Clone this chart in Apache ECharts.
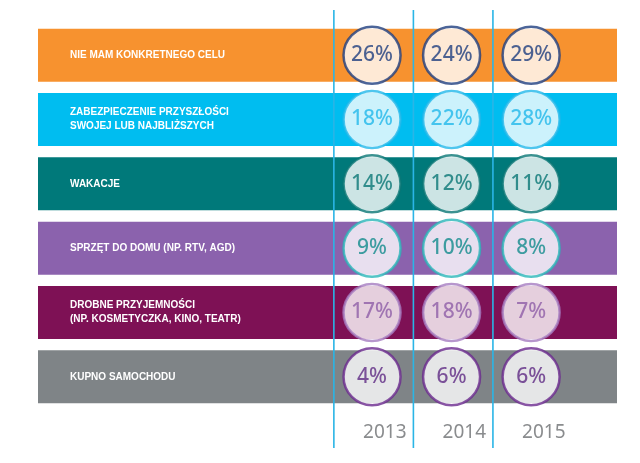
<!DOCTYPE html>
<html><head><meta charset="utf-8">
<script src="https://cdn.jsdelivr.net/npm/echarts@6/dist/echarts.min.js"></script>
<style>html,body{margin:0;padding:0;background:#fff}#c{width:640px;height:463px}</style>
</head><body><div id="c"></div>
<script>
// dane
const categories = ['NIE MAM KONKRETNEGO CELU', 'ZABEZPIECZENIE PRZYSZŁOŚCI\nSWOJEJ LUB NAJBLIŻSZYCH', 'WAKACJE',
  'SPRZĘT DO DOMU (NP. RTV, AGD)', 'DROBNE PRZYJEMNOŚCI\n(NP. KOSMETYCZKA, KINO, TEATR)', 'KUPNO SAMOCHODU'];
const years = [2013, 2014, 2015];
const v2013 = [26, 18, 14, 9, 17, 4];
const v2014 = [24, 22, 12, 10, 18, 6];
const v2015 = [29, 28, 11, 8, 7, 6];
const bandColors = ['#f7922f', '#00bdf0', '#00797a', '#8b62ad', '#7e1155', '#7f8487'];
const ringColors = ['#1f3f80', '#22b8ea', '#0a7775', '#2bb6b9', '#a57cc0', '#6b2b8e'];
const textColors = ['#1f3f80', '#22b8ea', '#0a7775', '#128b8c', '#8e5ea8', '#5f2a85'];

const chart = echarts.init(document.getElementById('c'));
const yearVals = [v2013, v2014, v2015];
const points = [];
years.forEach((y, j) => yearVals[j].forEach((v, i) => points.push({
  value: [y, i, v],
  itemStyle: { color: '#fff', borderColor: ringColors[i], borderWidth: 2.5 },
  label: { color: textColors[i] }
})));

chart.setOption({
  animation: false,
  grid: { left: 38, right: 23, top: 23, bottom: 54 },
  xAxis: { type: 'value', min: 2008.8, max: 2016.08, show: false },
  yAxis: { type: 'category', data: categories, inverse: true, show: false },
  series: [
    { // pasy
      type: 'custom', z: 1,
      data: categories.map((c, i) => [i]),
      renderItem: (p, api) => {
        const i = api.value(0), cs = p.coordSys;
        const yc = api.coord([2013, i])[1];
        return { type: 'group', children: [
          { type: 'rect', shape: { x: cs.x, y: yc - 26.5, width: cs.width, height: 53 }, style: { fill: bandColors[i] } },
          { type: 'text', style: { x: cs.x + 32, y: yc, text: categories[i], fill: '#fff',
            font: 'bold 10px "Liberation Sans", Arial', lineHeight: 14, verticalAlign: 'middle' } }
        ] };
      }
    },
    { // linie i lata
      type: 'custom', z: 2,
      data: years.map(y => [y]),
      renderItem: (p, api) => {
        const y = api.value(0);
        const x = api.coord([y - 0.48, 0])[0];
        const xt = api.coord([y + 0.16, 0])[0];
        return { type: 'group', children: [
          { type: 'line', shape: { x1: x, y1: 10, x2: x, y2: 448 }, style: { stroke: '#2ab5e6', lineWidth: 1.6 } },
          { type: 'text', style: { x: xt, y: 433, text: String(y), fill: '#8a8c8e',
            font: '19px "Noto Sans"', align: 'center', verticalAlign: 'middle' } }
        ] };
      }
    },
    {
      type: 'scatter', z: 3, symbolSize: 57, data: points,
      label: { show: true, position: 'inside', formatter: p => p.value[2] + '%',
        fontSize: 21, fontFamily: 'Noto Sans', fontWeight: 500 }
    }
  ]
});
</script></body></html>
